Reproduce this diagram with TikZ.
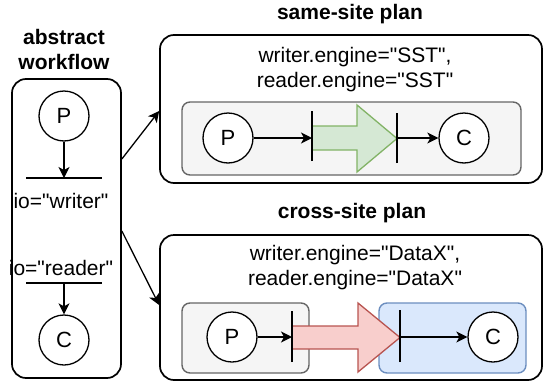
\documentclass[tikz,border=0pt]{standalone}
\usepackage{fontspec}
\setmainfont{Liberation Sans}[Ligatures=TeXOff]
\usetikzlibrary{arrows.meta}

\definecolor{grayfill}{HTML}{F5F5F5}
\definecolor{graystroke}{HTML}{666666}
\definecolor{greenfill}{HTML}{D5E8D4}
\definecolor{greenstroke}{HTML}{82B366}
\definecolor{redfill}{HTML}{F8CECC}
\definecolor{redstroke}{HTML}{B85450}
\definecolor{bluefill}{HTML}{DAE8FC}
\definecolor{bluestroke}{HTML}{6C8EBF}

\tikzset{
  txt/.style={font=\fontsize{21}{25}\selectfont, align=center, inner sep=0pt},
  ttl/.style={txt, font=\fontsize{21}{25}\selectfont\bfseries},
  outerbox/.style={draw, line width=1.7pt, rounded corners=14pt, inner sep=0pt},
  panel/.style={draw=graystroke, fill=grayfill, line width=1.4pt, rounded corners=8pt, inner sep=0pt},
  bluepanel/.style={draw=bluestroke, fill=bluefill, line width=1.4pt, rounded corners=8pt, inner sep=0pt},
  proc/.style={circle, draw, fill=white, line width=1.3pt, minimum size=50pt, inner sep=0pt,
               font=\fontsize{22}{24}\selectfont},
  flow/.style={-{Stealth[length=11pt,width=11pt,inset=3pt]}, line width=1.3pt},
  barline/.style={line width=1.5pt},
  bigarrow/.style={line width=1.3pt, line join=miter},
}

\begin{document}
\begin{tikzpicture}[x=1pt, y=-1pt]
\useasboundingbox (0,0) rectangle (544,386);

% ---------------- abstract workflow ----------------
\node[ttl] (awtitle) at (64,49) {abstract\\workflow};
\node[outerbox, minimum width=109pt, minimum height=299pt] (aw) at (66.5,228.5) {};

\node[proc] (p1) at (64,116) {P};
\coordinate (wbar) at (64,178);
\draw[barline] ([xshift=-38pt]wbar) -- ([xshift=38pt]wbar);
\draw[flow] (p1) -- (wbar);
\node[txt] (wlabel) at (61,201) {io="writer"};

\node[txt] (rlabel) at (61,268) {io="reader"};
\coordinate (rbar) at (64,283);
\draw[barline] ([xshift=-38pt]rbar) -- ([xshift=38pt]rbar);
\node[proc] (c1) at (64,340) {C};
\draw[flow] (rbar) -- (c1);

% ---------------- same-site plan ----------------
\node[ttl] (sstitle) at (350,14) {same-site plan};
\node[outerbox, minimum width=382pt, minimum height=148pt] (ss) at (351,109) {};
\node[txt] (sscfg) at (355,70) {writer.engine="SST",\\reader.engine="SST"};
\node[panel, minimum width=339pt, minimum height=73pt] (sspanel) at (351.5,138.5) {};

\node[proc] (p2) at (228,138) {P};
\node[proc] (c2) at (464,138) {C};
\coordinate (sw) at (312,138);
\coordinate (sr) at (397,138);
\filldraw[bigarrow, draw=greenstroke, fill=greenfill]
  (312,126) -- (357,126) -- (357,105) -- (397,138.5) -- (357,172) -- (357,150) -- (312,150) -- cycle;
\draw[barline] ([yshift=-23pt]sw) -- ([yshift=27pt]sw);
\draw[barline] ([yshift=-25pt]sr) -- ([yshift=25pt]sr);
\draw[flow] (p2) -- (sw);
\draw[flow] (sr) -- (c2);

% ---------------- cross-site plan ----------------
\node[ttl] (cstitle) at (352,213) {cross-site plan};
\node[outerbox, minimum width=382pt, minimum height=145pt] (cs) at (351,307.5) {};
\node[txt] (cscfg) at (355,268) {writer.engine="DataX",\\reader.engine="DataX"};
\node[panel, minimum width=127pt, minimum height=70pt] (wpanel) at (245.5,338) {};
\node[bluepanel, minimum width=147pt, minimum height=70pt] (rpanel) at (452.5,338) {};

\node[proc] (p3) at (232,337) {P};
\node[proc] (c3) at (493,337) {C};
\coordinate (cw) at (292,337);
\coordinate (cr) at (400,337);
\filldraw[bigarrow, draw=redstroke, fill=redfill]
  (292,326) -- (358,326) -- (358,303) -- (400,337.5) -- (358,372) -- (358,349) -- (292,349) -- cycle;
\draw[barline] ([yshift=-25pt]cw) -- ([yshift=26pt]cw);
\draw[barline] ([yshift=-25pt]cr) -- ([yshift=27pt]cr);
\draw[flow] (p3) -- (cw);
\draw[flow] (cr) -- (c3);

% ---------------- plan selection ----------------
\draw[flow] (aw.east |- 0,159) -- (ss.west |- 0,111);
\draw[flow] (aw.east |- 0,231) -- (cs.west |- 0,305);
\end{tikzpicture}
\end{document}
